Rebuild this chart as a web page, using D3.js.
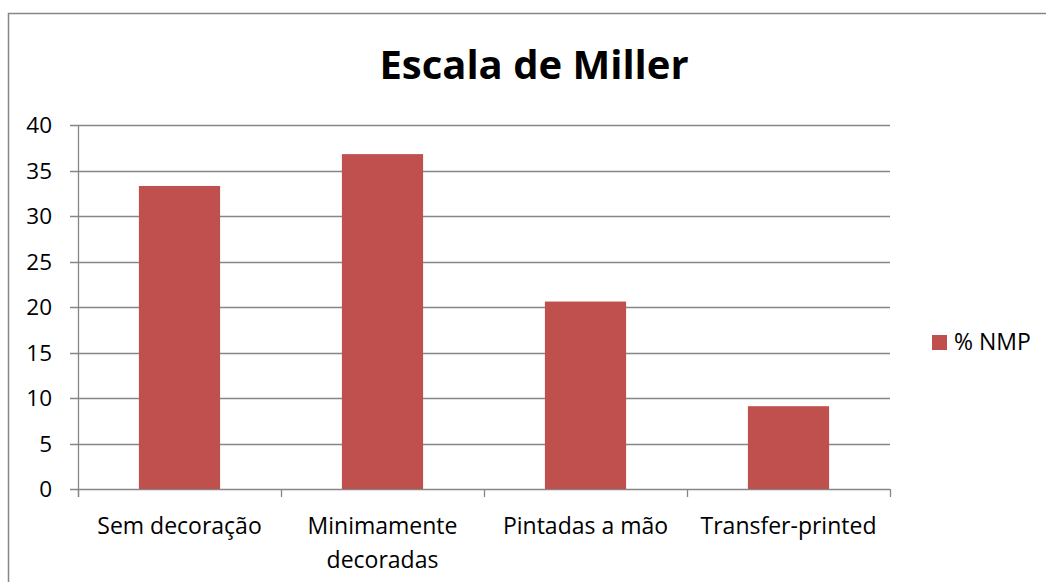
<!DOCTYPE html>
<html><head><meta charset="utf-8">
<script src="https://cdn.jsdelivr.net/npm/d3@7"></script>
<style>body{margin:0;background:#fff}svg{display:block}</style>
</head><body>
<svg id="c" width="1046" height="582"></svg>
<script>
const title = "Escala de Miller";
const categories = [["Sem decoração"], ["Minimamente", "decoradas"], ["Pintadas a mão"], ["Transfer-printed"]];
const seriesName = "% NMP";
const values = [33.3, 36.8, 20.6, 9.1];
const yTicks = [0, 5, 10, 15, 20, 25, 30, 35, 40];

const font = "Open Sans, sans-serif";
const svg = d3.select("#c");
const W = 1046, H = 582;
svg.append("rect").attr("width", W).attr("height", H).attr("fill", "#fff");
svg.append("rect").attr("x", 8.5).attr("y", 13.5).attr("width", W + 20).attr("height", H + 20)
  .attr("fill", "none").attr("stroke", "#868686").attr("stroke-width", 1.5);

const L = 78, R = 890, T = 125, B = 489;
const x = d3.scaleBand().domain(d3.range(categories.length)).range([L, R]).padding(0);
const y = d3.scaleLinear().domain([0, 40]).range([B, T]);

// gridlines
svg.append("g").selectAll("line").data(yTicks).join("line")
  .attr("x1", L - 8).attr("x2", R).attr("y1", d => Math.round(y(d)) + 0.5).attr("y2", d => Math.round(y(d)) + 0.5)
  .attr("stroke", "#868686").attr("stroke-width", 1.3);

// y axis line
svg.append("line").attr("x1", L + 0.5).attr("x2", L + 0.5).attr("y1", T).attr("y2", B + 8)
  .attr("stroke", "#868686").attr("stroke-width", 1.3);

// x ticks
svg.append("g").selectAll("line").data(d3.range(categories.length + 1)).join("line")
  .attr("x1", i => (i < categories.length ? x(i) : R) + 0.5)
  .attr("x2", i => (i < categories.length ? x(i) : R) + 0.5)
  .attr("y1", B).attr("y2", B + 8)
  .attr("stroke", "#868686").attr("stroke-width", 1.3);

// bars
const bw = x.bandwidth() * 0.4;
svg.append("g").selectAll("rect").data(values).join("rect")
  .attr("x", (d, i) => x(i) + (x.bandwidth() - bw) / 2)
  .attr("width", bw)
  .attr("y", d => y(d)).attr("height", d => B - y(d))
  .attr("fill", "#C0504D");

// y labels
svg.append("g").selectAll("text").data(yTicks).join("text")
  .attr("x", 52).attr("y", d => y(d)).attr("dy", "0.36em")
  .attr("text-anchor", "end").attr("font-family", font).attr("font-size", 22.5)
  .attr("fill", "#000").text(d => d);

// x labels
const xl = svg.append("g").selectAll("text").data(categories).join("text")
  .attr("text-anchor", "middle").attr("font-family", font).attr("font-size", 23).attr("fill", "#000")
  .attr("x", (d, i) => x(i) + x.bandwidth() / 2).attr("y", 534);
xl.selectAll("tspan").data(d => d).join("tspan")
  .attr("x", function () { return this.parentNode.getAttribute("x"); })
  .attr("dy", (d, j) => j === 0 ? 0 : 34).text(d => d);

// title
svg.append("text").attr("x", 534).attr("y", 79).attr("text-anchor", "middle")
  .attr("font-family", font).attr("font-weight", "bold").attr("font-size", 40).text(title);

// legend
svg.append("rect").attr("x", 932).attr("y", 335).attr("width", 15).attr("height", 15).attr("fill", "#C0504D");
svg.append("text").attr("x", 954).attr("y", 350).attr("font-family", font).attr("font-size", 23).text(seriesName);
</script>
</body></html>
